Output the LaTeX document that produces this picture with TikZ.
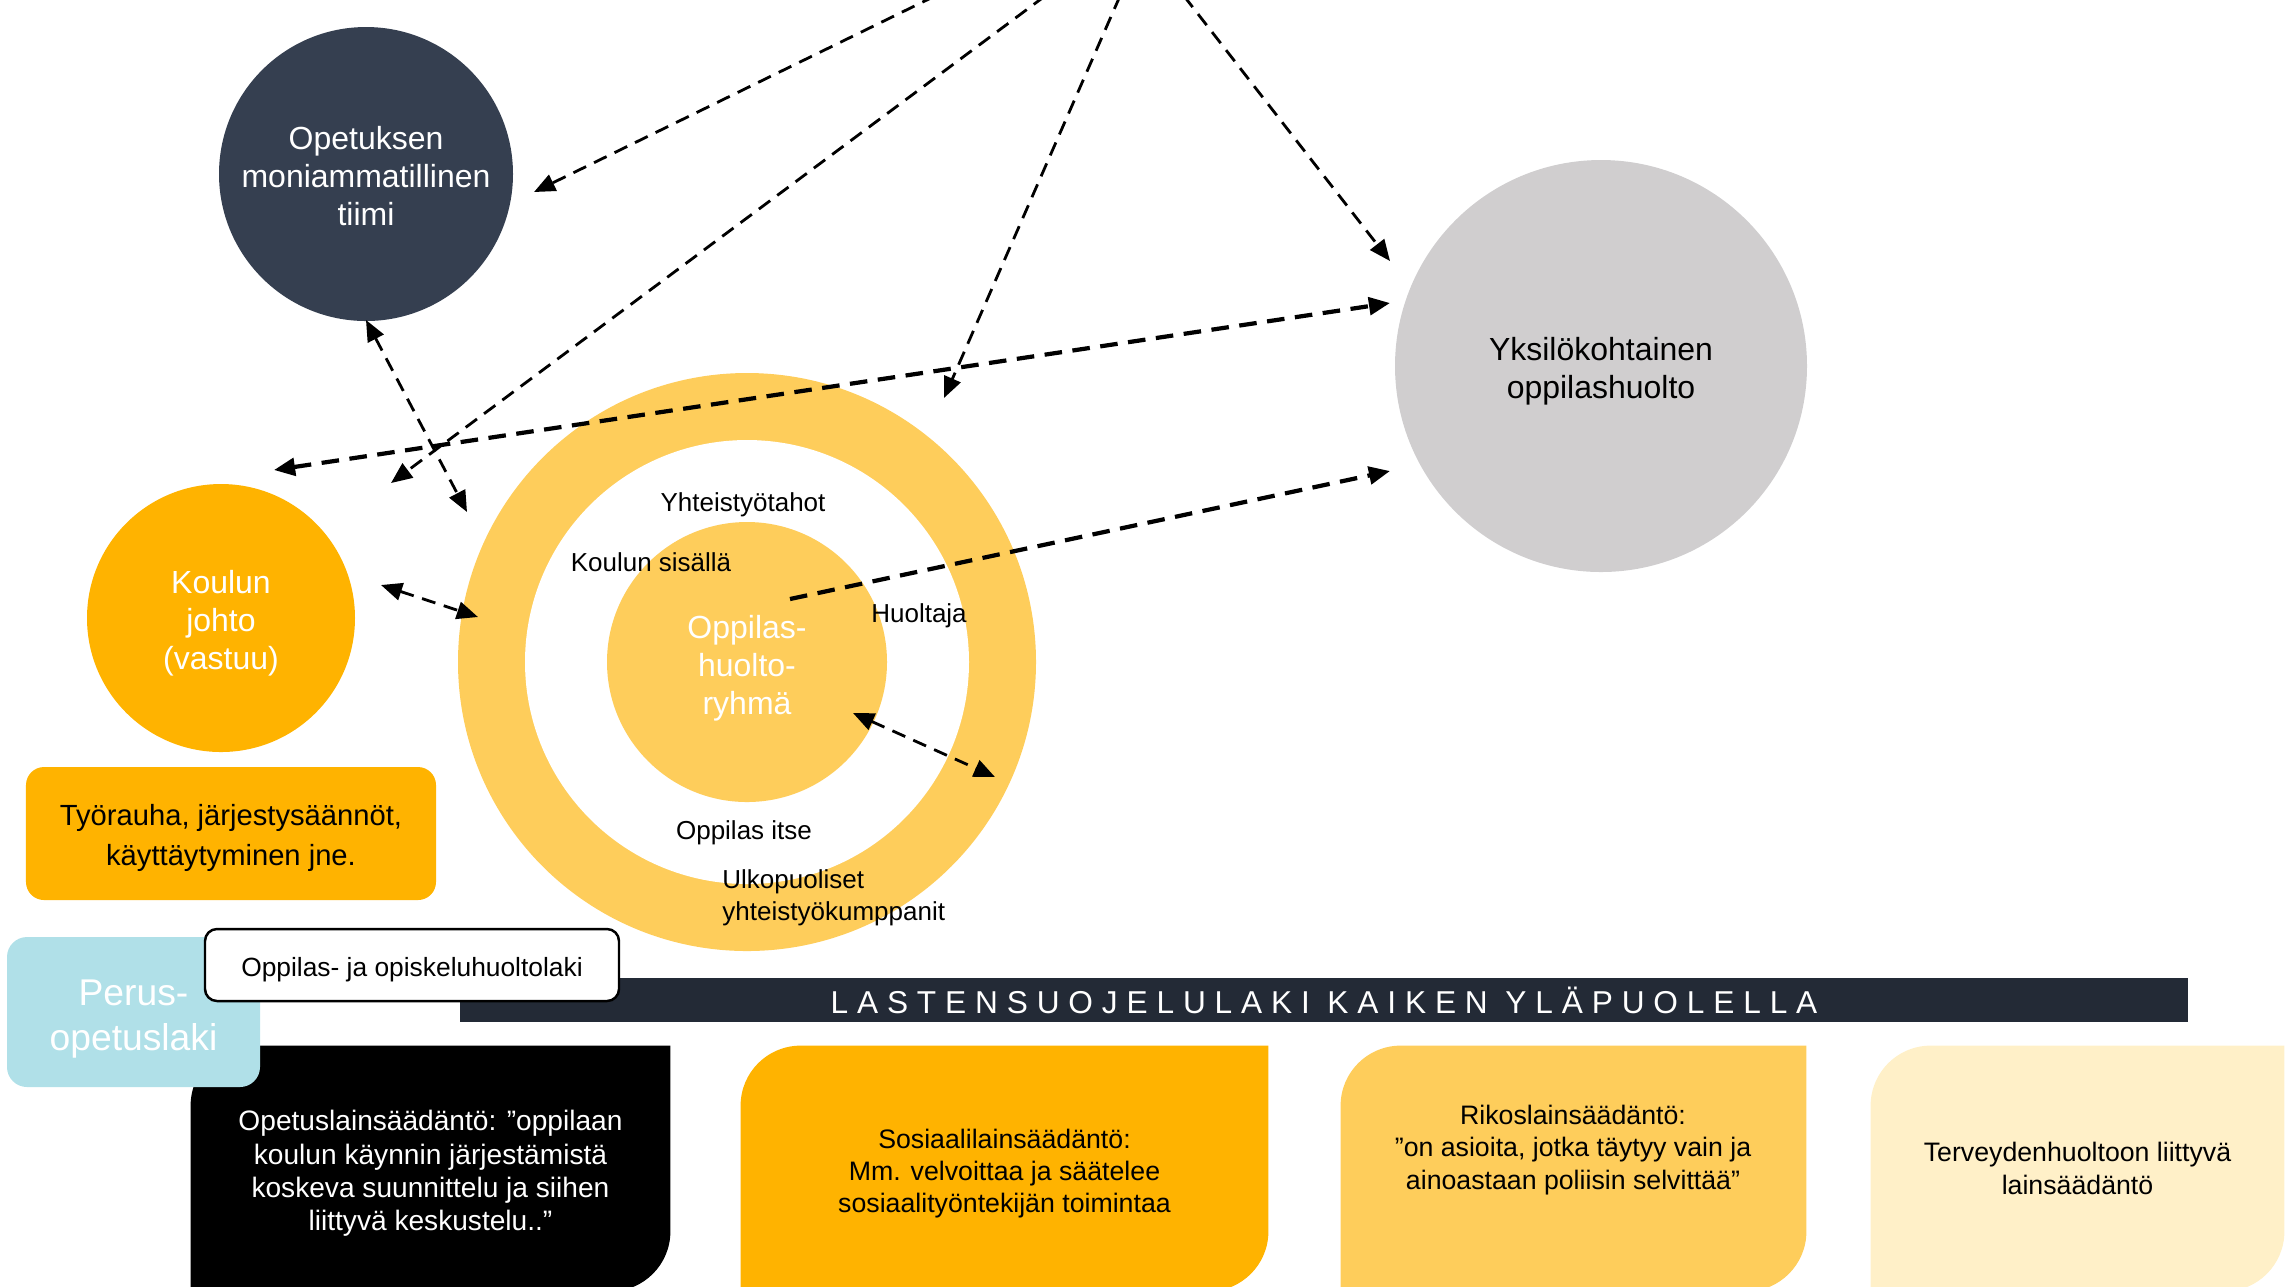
\documentclass[tikz,border=0pt]{standalone}
\usepackage{fontspec}
\setmainfont{Liberation Sans}
\newfontfamily\barfont[LetterSpace=28]{Liberation Sans}
\usetikzlibrary{backgrounds,calc,arrows.meta}
\definecolor{slate}{HTML}{353F50}
\definecolor{greyball}{HTML}{D0CECF}
\definecolor{gold}{HTML}{FFB300}
\definecolor{ringgold}{HTML}{FECD5B}
\definecolor{paleblue}{HTML}{B0E0E8}
\definecolor{barblue}{HTML}{232A36}
\definecolor{cream}{HTML}{FFF0C8}

\begin{document}
\begin{tikzpicture}[thick]
        %
        % `bubble' is used for the round nodes, `tag' for the small ring texts.
        % `lawbox' is used for the boxes along the bottom.
        % `link' and `both' are the dashed arrows.
        \tikzstyle{bubble} = [circle,inner sep=0pt,align=center,font=\fontsize{9.1}{10.8}\selectfont]
        \tikzstyle{tag} = [align=center,inner sep=0pt,font=\fontsize{7.4}{9.2}\selectfont]
        \tikzstyle{lawbox} = [inner sep=0pt,align=center,minimum height=2.43cm,font=\fontsize{7.6}{9.2}\selectfont]
        \tikzstyle{link} = [dash pattern=on 4pt off 2.5pt,line width=0.8pt,-{Triangle[length=6pt,width=5pt]}]
        \tikzstyle{both} = [dash pattern=on 4pt off 2.5pt,line width=0.8pt,{Triangle[length=6pt,width=5pt]}-{Triangle[length=6pt,width=5pt]}]
        \tikzstyle{heavy} = [line width=1.2pt,dash pattern=on 5pt off 3pt]
        %
        \useasboundingbox (0,0) rectangle (22.95,-12.86);
        \clip (0,0) rectangle (22.95,-12.86);
        %
        % Circles
        \node[bubble,fill=slate,text=white,minimum size=2.94cm] (ope) at (3.66,-1.74)
            {\rule{0pt}{8pt}Opetuksen\\moniammatillinen\\tiimi};
        \node[bubble,fill=greyball,minimum size=4.12cm] (yks) at (16.01,-3.66)
            {\rule{0pt}{9.6pt}Yksilökohtainen\\oppilashuolto};
        \node[bubble,fill=gold,text=white,minimum size=2.68cm] (johto) at (2.21,-6.18)
            {\rule{0pt}{9.6pt}Koulun\\johto\\(vastuu)};
        %
        % Rings
        \node[bubble,fill=ringgold,minimum size=5.78cm] (ringout) at (7.47,-6.62) {};
        \node[bubble,fill=white,minimum size=4.44cm] (ringin) at (ringout) {};
        \node[bubble,fill=ringgold,text=white,minimum size=2.80cm] (ohr) at (ringout)
            {\rule{0pt}{10.3pt}Oppilas-\\huolto-\\ryhmä};
        \node[tag] (yht) at (7.43,-5.05) {Yhteistyötahot};
        \node[tag] (sis) at (6.51,-5.62) {Koulun sisällä};
        \node[tag] (huol) at (9.19,-6.16) {Huoltaja};
        \node[tag] (itse) at (7.44,-8.33) {Oppilas itse};
        \node[tag,anchor=west,align=left] (ulko) at (7.21,-8.975)
            {Ulkopuoliset\\yhteistyökumppanit};
        %
        % Boxes on the left
        \node[fill=gold,rounded corners=1.8mm,minimum width=4.10cm,minimum height=1.33cm,
            align=center,font=\fontsize{8.3}{11.4}\selectfont] (tyo) at (2.31,-8.335)
            {\rule{0pt}{8.4pt}Työrauha, järjestysäännöt,\\käyttäytyminen jne.};
        %
        % Bottom boxes
        \node[lawbox,text=white,minimum width=4.77cm,font=\fontsize{8}{9.5}\selectfont] (opl) at (4.305,-11.685)
            {\rule{0pt}{8.6pt}Opetuslainsäädäntö: ”oppilaan\\koulun käynnin järjestämistä\\koskeva suunnittelu ja siihen\\liittyvä keskustelu..”};
        \node[lawbox,minimum width=5.25cm] (sos) at (10.045,-11.685)
            {\rule{0pt}{8.4pt}Sosiaalilainsäädäntö:\\Mm. velvoittaa ja säätelee\\sosiaalityöntekijän toimintaa};
        \node[lawbox,minimum width=4.63cm] (rik) at (15.735,-11.685) {};
        \node[tag,font=\fontsize{7.6}{9.2}\selectfont] (riktext) at (15.73,-11.50)
            {Rikoslainsäädäntö:\\”on asioita, jotka täytyy vain ja\\ainoastaan poliisin selvittää”};
        \node[lawbox,minimum width=4.11cm] (ter) at (20.775,-11.685)
            {Terveydenhuoltoon liittyvä\\lainsäädäntö};
        \begin{pgfonlayer}{background}
        \fill[black] (opl.south west) -- ($(opl.north west)+(0,-0.6)$) arc[start angle=180,end angle=90,radius=0.6]
            -- (opl.north east) -- ($(opl.south east)+(0,0.6)$) arc[start angle=0,end angle=-90,radius=0.6] -- cycle;
        \fill[gold] (sos.south west) -- ($(sos.north west)+(0,-0.6)$) arc[start angle=180,end angle=90,radius=0.6]
            -- (sos.north east) -- ($(sos.south east)+(0,0.6)$) arc[start angle=0,end angle=-90,radius=0.6] -- cycle;
        \fill[ringgold] (rik.south west) -- ($(rik.north west)+(0,-0.6)$) arc[start angle=180,end angle=90,radius=0.6]
            -- (rik.north east) -- ($(rik.south east)+(0,0.6)$) arc[start angle=0,end angle=-90,radius=0.6] -- cycle;
        \fill[cream] (ter.south west) -- ($(ter.north west)+(0,-0.6)$) arc[start angle=180,end angle=90,radius=0.6]
            -- (ter.north east) -- ($(ter.south east)+(0,0.6)$) arc[start angle=0,end angle=-90,radius=0.6] -- cycle;
        \end{pgfonlayer}
        %
        % Law names over the bottom boxes
        \node[fill=barblue,text=white,minimum width=17.28cm,minimum height=0.44cm,inner sep=0pt,
            font=\barfont\fontsize{9}{10}\selectfont] (bar) at (13.24,-10.00)
            {LASTENSUOJELULAKI KAIKEN YLÄPUOLELLA};
        \node[fill=paleblue,text=white,rounded corners=2mm,minimum width=2.53cm,minimum height=1.50cm,
            align=center,font=\fontsize{10.6}{12.8}\selectfont] (perus) at (1.335,-10.12)
            {\rule{0pt}{11.4pt}Perus-\\opetuslaki};
        \node[fill=white,draw=black,line width=0.7pt,rounded corners=1.2mm,minimum width=4.14cm,
            minimum height=0.72cm,font=\fontsize{7.5}{9}\selectfont] (ojo) at (4.12,-9.65)
            {\rule{0pt}{8.1pt}Oppilas- ja opiskeluhuoltolaki};
        %
        % Arrow ends
        \coordinate (top1) at (9.35,0.04);
        \coordinate (top2) at (10.45,0.04);
        \coordinate (top3) at (11.20,0.04);
        \coordinate (top4) at (11.84,0.04);
        \coordinate (opeR) at (5.34,-1.92);
        \coordinate (opeB) at (3.66,-3.20);
        \coordinate (johtoNE) at (3.91,-4.83);
        \coordinate (johtoN) at (2.74,-4.70);
        \coordinate (johtoE) at (3.81,-5.85);
        \coordinate (ringNW) at (4.67,-5.12);
        \coordinate (ringW) at (4.78,-6.17);
        \coordinate (ringNE) at (9.44,-3.98);
        \coordinate (ringSE) at (9.95,-7.77);
        \coordinate (ohrC) at (7.90,-5.99);
        \coordinate (ohrSE) at (8.53,-7.13);
        \coordinate (yksNW) at (13.90,-2.61);
        \coordinate (yksW) at (13.90,-3.03);
        \coordinate (yksSW) at (13.90,-4.71);
        %
        % Arrows from above
        \draw[link] (top1) -- (opeR);
        \draw[link] (top2) -- (johtoNE);
        \draw[link] (top3) -- (ringNE);
        \draw[link] (top4) -- (yksNW);
        %
        % Arrows between the circles
        \draw[both,heavy] (johtoN) -- (yksW);
        \draw[both] (opeB) -- (ringNW);
        \draw[both] (johtoE) -- (ringW);
        \draw[link,heavy] (ohrC) -- (yksSW);
        \draw[both] (ohrSE) -- (ringSE);
        %
\end{tikzpicture}
\end{document}
